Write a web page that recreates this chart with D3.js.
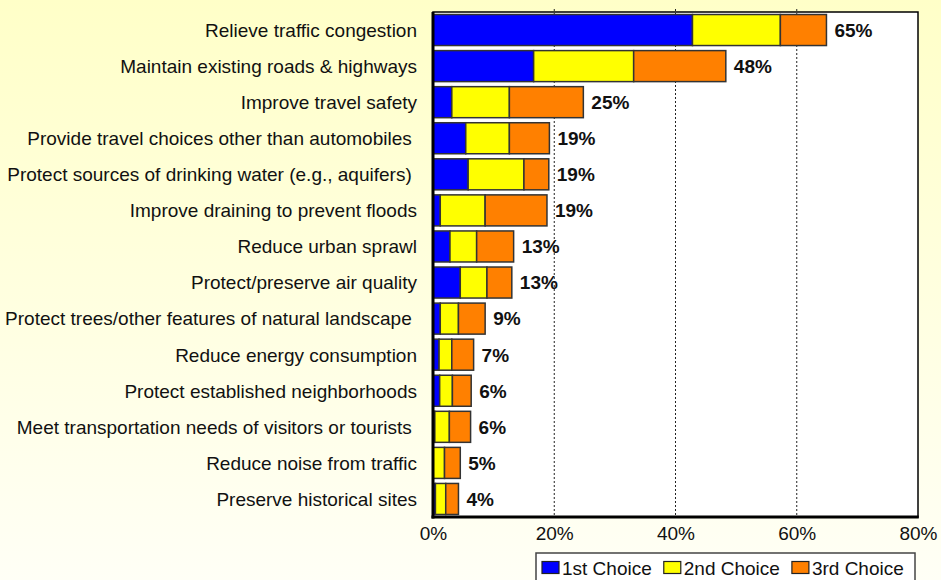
<!DOCTYPE html>
<html>
<head>
<meta charset="utf-8">
<script src="https://cdn.jsdelivr.net/npm/d3@7"></script>
<style>
  html, body { margin: 0; padding: 0; }
  svg { display: block; font-family: Arial, "Liberation Sans", sans-serif; }
</style>
</head>
<body>
<svg id="chart" width="941" height="580"></svg>
<script>

// Chart data

let categories = [
    "Relieve traffic congestion",
    "Maintain existing roads & highways",
    "Improve travel safety",
    "Provide travel choices other than automobiles ",
    "Protect sources of drinking water (e.g., aquifers) ",
    "Improve draining to prevent floods",
    "Reduce urban sprawl",
    "Protect/preserve air quality",
    "Protect trees/other features of natural landscape ",
    "Reduce energy consumption",
    "Protect established neighborhoods",
    "Meet transportation needs of visitors or tourists ",
    "Reduce noise from traffic",
    "Preserve historical sites"
];

let seriesNames = ["1st Choice", "2nd Choice", "3rd Choice"];

let firstChoice  = [42.8, 16.6, 3.1, 5.4, 5.8, 1.2, 2.8, 4.5, 1.2, 1.0, 1.1, 0.3, 0.0, 0.4];
let secondChoice = [14.5, 16.5, 9.5, 7.2, 9.2, 7.4, 4.4, 4.4, 3.0, 2.1, 2.1, 2.4, 1.9, 1.7];
let thirdChoice  = [7.6, 15.2, 12.2, 6.6, 4.1, 10.2, 6.1, 4.1, 4.4, 3.6, 3.1, 3.5, 2.6, 2.1];

let totalLabels = [65, 48, 25, 19, 19, 19, 13, 13, 9, 7, 6, 6, 5, 4];

let xTicks = [0, 20, 40, 60, 80];

let colors = ["#0000ff", "#ffff00", "#ff8000"];


// Build the stacked rows

let rows = categories.map((c, i) => ({
    name: c,
    "1st Choice": firstChoice[i],
    "2nd Choice": secondChoice[i],
    "3rd Choice": thirdChoice[i],
    total: totalLabels[i]
}));

let stacked = d3.stack().keys(seriesNames)(rows);


let svg = d3.select("#chart");

let plot = { left: 433, right: 918, top: 12, bottom: 517 };
let fontSize = 19;

// background gradient
let defs = svg.append("defs");
let grad = defs.append("linearGradient")
    .attr("id", "bg")
    .attr("x1", 0).attr("y1", 0)
    .attr("x2", 0).attr("y2", 1);
grad.append("stop").attr("offset", "0%").attr("stop-color", "#ffffc8");
grad.append("stop").attr("offset", "100%").attr("stop-color", "#fffff6");

svg.append("rect")
    .attr("width", 941)
    .attr("height", 580)
    .attr("fill", "url(#bg)");

svg.append("rect")
    .attr("x", plot.left)
    .attr("y", plot.top)
    .attr("width", plot.right - plot.left)
    .attr("height", plot.bottom - plot.top)
    .attr("fill", "#fff");


// Scales

let x = d3.scaleLinear()
    .domain([0, 80])
    .range([plot.left, plot.right]);

let y = d3.scaleBand()
    .domain(categories)
    .range([plot.top, plot.bottom])
    .paddingInner(0.14)
    .paddingOuter(0.07);


// gridlines
svg.append("g")
    .selectAll("line")
    .data(xTicks.slice(1, -1))
    .join("line")
    .attr("x1", d => x(d))
    .attr("x2", d => x(d))
    .attr("y1", plot.top - 3)
    .attr("y2", plot.bottom)
    .attr("stroke", "#222")
    .attr("stroke-width", 1)
    .attr("stroke-dasharray", "2,2");


// bars
svg.append("g")
    .selectAll("g")
    .data(stacked)
    .join("g")
    .attr("fill", (d, i) => colors[i])
    .selectAll("rect")
    .data(d => d)
    .join("rect")
    .attr("x", d => x(d[0]))
    .attr("y", d => y(d.data.name))
    .attr("width", d => x(d[1]) - x(d[0]))
    .attr("height", y.bandwidth())
    .attr("stroke", "#333")
    .attr("stroke-width", 1.5);


// value labels
svg.append("g")
    .selectAll("text")
    .data(rows)
    .join("text")
    .attr("x", d => x(d["1st Choice"] + d["2nd Choice"] + d["3rd Choice"]) + 8)
    .attr("y", d => y(d.name) + y.bandwidth() / 2)
    .attr("dy", "0.36em")
    .attr("font-size", fontSize)
    .attr("font-weight", "bold")
    .attr("fill", "#111")
    .text(d => d.total + "%");


// category labels
svg.append("g")
    .selectAll("text")
    .data(categories)
    .join("text")
    .attr("x", 417)
    .attr("y", d => y(d) + y.bandwidth() / 2)
    .attr("dy", "0.36em")
    .attr("text-anchor", "end")
    .attr("font-size", fontSize)
    .attr("fill", "#111")
    .style("white-space", "pre")
    .text(d => d);


// frame
svg.append("rect")
    .attr("x", plot.left)
    .attr("y", plot.top)
    .attr("width", plot.right - plot.left)
    .attr("height", plot.bottom - plot.top)
    .attr("fill", "none")
    .attr("stroke", "#000")
    .attr("stroke-width", 1.5);

svg.append("line")
    .attr("x1", plot.left).attr("x2", plot.left)
    .attr("y1", plot.top).attr("y2", plot.bottom + 1.5)
    .attr("stroke", "#000")
    .attr("stroke-width", 3);

svg.append("line")
    .attr("x1", plot.left - 1.5).attr("x2", plot.right + 0.75)
    .attr("y1", plot.bottom).attr("y2", plot.bottom)
    .attr("stroke", "#000")
    .attr("stroke-width", 3);


// x axis
let xAxis = d3.axisBottom(x)
    .tickValues(xTicks)
    .tickSize(0)
    .tickPadding(10)
    .tickFormat(d => d + "%");

let axisG = svg.append("g")
    .attr("transform", `translate(0,${plot.bottom})`)
    .call(xAxis);

axisG.select(".domain").remove();
axisG.selectAll("text")
    .attr("font-size", fontSize)
    .attr("font-family", "Arial, 'Liberation Sans', sans-serif")
    .attr("fill", "#111");


// legend
let legend = svg.append("g");

legend.append("rect")
    .attr("x", 536)
    .attr("y", 553)
    .attr("width", 379)
    .attr("height", 40)
    .attr("fill", "#fff")
    .attr("stroke", "#444")
    .attr("stroke-width", 1.5);

let lx = 542;
seriesNames.forEach((name, i) => {
    legend.append("rect")
        .attr("x", lx)
        .attr("y", 561.5)
        .attr("width", 17)
        .attr("height", 12)
        .attr("fill", colors[i])
        .attr("stroke", "#222")
        .attr("stroke-width", 1.2);
    let t = legend.append("text")
        .attr("x", lx + 20)
        .attr("y", 574.5)
        .attr("font-size", fontSize)
        .attr("fill", "#111")
        .text(name);
    lx += 20 + t.node().getComputedTextLength() + 12;
});

</script>
</body>
</html>
